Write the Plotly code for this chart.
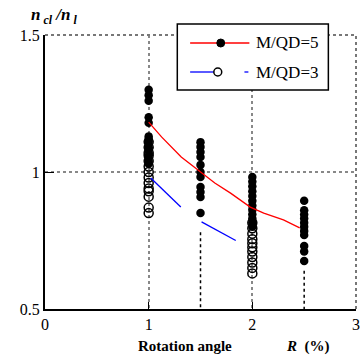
import plotly.graph_objects as go

# ---- data ----
x5 = [1.0]*13 + [1.5]*11 + [2.0]*12 + [2.5]*11
y5 = [1.30, 1.28, 1.26, 1.20, 1.18, 1.13, 1.12, 1.11, 1.09, 1.08, 1.06, 1.04, 1.03,
      1.109, 1.091, 1.073, 1.055, 1.026, 1.0, 0.982, 0.945, 0.927, 0.909, 0.85,
      0.982, 0.965, 0.948, 0.93, 0.912, 0.895, 0.878, 0.862, 0.846, 0.83, 0.815, 0.80,
      0.895, 0.86, 0.845, 0.83, 0.815, 0.80, 0.785, 0.77, 0.73, 0.71, 0.675]

x3 = [1.0]*14 + [2.0]*11
y3 = [1.11, 1.09, 1.07, 1.06, 1.04, 1.02, 1.00, 0.98, 0.96, 0.94, 0.93, 0.91, 0.87, 0.85,
      0.815, 0.795, 0.775, 0.755, 0.74, 0.725, 0.71, 0.69, 0.67, 0.65, 0.63]

red_x = [1.0, 1.124, 1.314, 1.476, 1.638, 1.79, 1.98, 2.11, 2.30, 2.457]
red_y = [1.182, 1.128, 1.055, 1.007, 0.960, 0.923, 0.872, 0.850, 0.825, 0.796]

blue_x = [1.02, 1.15, 1.31, None, 1.51, 1.65, 1.84]
blue_y = [0.978, 0.93, 0.872, None, 0.818, 0.79, 0.75]

dash_x = [1.5, 1.5, None, 2.5, 2.5]
dash_y = [0.78, 0.5, None, 0.64, 0.5]

xticks = [0, 1, 2, 3]
yticks = [0.5, 1, 1.5]
ytick_text = ["0.5", "1", "1.5"]

FONT = "Liberation Serif"

fig = go.Figure()
fig.add_trace(go.Scatter(x=dash_x, y=dash_y, mode="lines",
                         line=dict(color="black", width=1.5, dash="dot"), hoverinfo="skip"))
fig.add_trace(go.Scatter(x=x5, y=y5, mode="markers",
                         marker=dict(symbol="circle", size=8.5, color="black")))
fig.add_trace(go.Scatter(x=x3, y=y3, mode="markers",
                         marker=dict(symbol="circle-open", size=9, color="black",
                                     line=dict(width=1.5, color="black"))))
fig.add_trace(go.Scatter(x=red_x, y=red_y, mode="lines",
                         line=dict(color="red", width=1.3)))
fig.add_trace(go.Scatter(x=blue_x, y=blue_y, mode="lines",
                         line=dict(color="blue", width=1.3)))

W, H = 363, 360
L, R, T, B = 45, 3, 35, 51
pw, ph = W - L - R, H - T - B

def px(x):
    return (x - L) / pw

def py(y):
    return (H - B - y) / ph

shapes = []
# top and right dotted borders
shapes.append(dict(type="line", xref="paper", yref="paper", x0=0, x1=1, y0=1, y1=1,
                   line=dict(color="#777", width=2, dash="dot")))
shapes.append(dict(type="line", xref="paper", yref="paper", x0=1, x1=1, y0=0, y1=1,
                   line=dict(color="#777", width=2, dash="dot")))
# legend box
shapes.append(dict(type="rect", xref="paper", yref="paper", x0=px(179), x1=px(332),
                   y0=py(90), y1=py(24), fillcolor="white", line=dict(color="black", width=1.5),
                   layer="above"))
shapes.append(dict(type="line", xref="paper", yref="paper", x0=px(192), x1=px(252),
                   y0=py(43), y1=py(43), line=dict(color="red", width=1.3), layer="above"))
shapes.append(dict(type="circle", xref="paper", yref="paper", x0=px(219), x1=px(227),
                   y0=py(47), y1=py(39), fillcolor="black", line=dict(color="black", width=1),
                   layer="above"))
shapes.append(dict(type="line", xref="paper", yref="paper", x0=px(192), x1=px(216),
                   y0=py(72), y1=py(72), line=dict(color="blue", width=1.3), layer="above"))
shapes.append(dict(type="circle", xref="paper", yref="paper", x0=px(216), x1=px(224),
                   y0=py(76), y1=py(68), fillcolor="white", line=dict(color="black", width=1.5),
                   layer="above"))
shapes.append(dict(type="line", xref="paper", yref="paper", x0=px(247), x1=px(251),
                   y0=py(72), y1=py(72), line=dict(color="blue", width=1.3), layer="above"))

annotations = [
    dict(text="M/QD=5", xref="paper", yref="paper", x=px(257), y=py(43), xanchor="left",
         yanchor="middle", showarrow=False, font=dict(family=FONT, size=17, color="black")),
    dict(text="M/QD=3", xref="paper", yref="paper", x=px(257), y=py(72), xanchor="left",
         yanchor="middle", showarrow=False, font=dict(family=FONT, size=17, color="black")),
    dict(text="<b><i>n</i></b><sub><b><i> cl</i></b></sub><b><i> /n</i></b><sub><b><i> l</i></b></sub>",
         xref="paper", yref="paper", x=px(29), y=py(16), xanchor="left", yanchor="middle",
         showarrow=False, font=dict(family=FONT, size=17, color="black")),
    dict(text="<b>Rotation angle</b>", xref="paper", yref="paper", x=px(187), y=py(346),
         xanchor="center", yanchor="middle", showarrow=False,
         font=dict(family=FONT, size=15, color="black")),
    dict(text="<b><i>R</i>  (%)</b>", xref="paper", yref="paper", x=px(311), y=py(346),
         xanchor="center", yanchor="middle", showarrow=False,
         font=dict(family=FONT, size=15, color="black")),
]

fig.update_layout(
    width=W, height=H, margin=dict(l=L, r=R, t=T, b=B),
    paper_bgcolor="white", plot_bgcolor="white", showlegend=False,
    font=dict(family=FONT, size=16, color="black"),
    shapes=shapes, annotations=annotations,
    xaxis=dict(range=[0, 3], tickvals=xticks, ticks="inside", ticklen=7, tickcolor="black",
               showline=True, linecolor="black", linewidth=2, mirror=False,
               showgrid=True, gridcolor="#888", griddash="dot", gridwidth=2,
               zeroline=False, ticklabeloverflow="allow",
               tickfont=dict(family=FONT, size=16)),
    yaxis=dict(range=[0.5, 1.5], tickvals=yticks, ticktext=ytick_text, ticks="inside",
               ticklen=9, tickcolor="black",
               showline=True, linecolor="black", linewidth=2, mirror=False,
               showgrid=True, gridcolor="#888", griddash="dot", gridwidth=2,
               zeroline=False, tickfont=dict(family=FONT, size=16)),
)

fig.write_html("out.html", config={"displayModeBar": False},
               post_script="document.body.style.margin='0';document.body.style.overflow='hidden';")
